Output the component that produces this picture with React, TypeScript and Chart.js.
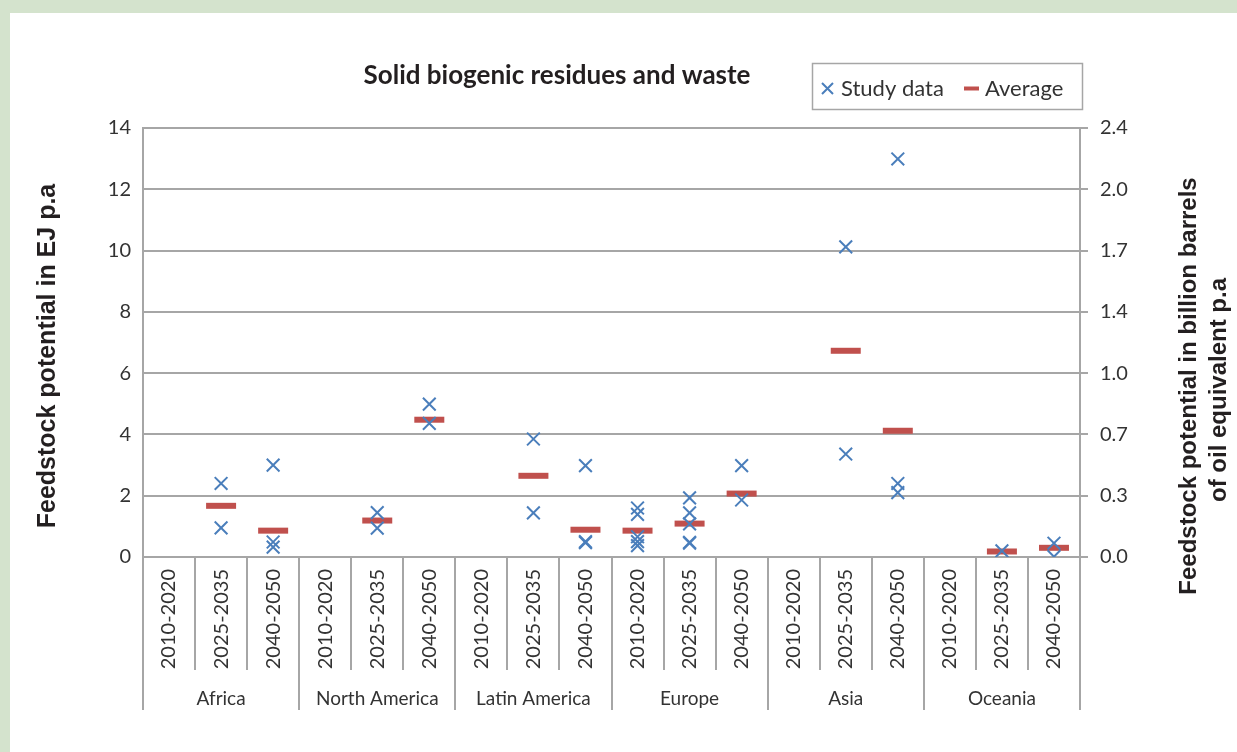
import React, { useEffect, useRef } from "react";
import { Chart, registerables } from "chart.js";

Chart.register(...registerables);

const regions = ["Africa", "North America", "Latin America", "Europe", "Asia", "Oceania"];
const periods = ["2010-2020", "2025-2035", "2040-2050"];
const rightTickLabels = ["0.0", "0.3", "0.7", "1.0", "1.4", "1.7", "2.0", "2.4"];

// Study data (EJ p.a) per period for each region
const africaStudy = [[], [2.4, 0.95], [3.0, 0.49, 0.32]];
const northAmericaStudy = [[], [1.45, 0.94], [4.99, 4.36]];
const latinAmericaStudy = [[], [3.85, 1.44], [2.98, 0.5, 0.47]];
const europeStudy = [[1.6, 1.39, 0.66, 0.5, 0.37], [1.93, 1.44, 1.08, 0.48, 0.45], [2.98, 1.86]];
const asiaStudy = [[], [10.12, 3.36], [12.99, 2.4, 2.1]];
const oceaniaStudy = [[], [0.2], [0.45, 0.01]];

// Averages (EJ p.a) per period for each region
const africaAvg = [null, 1.67, 0.86];
const northAmericaAvg = [null, 1.19, 4.48];
const latinAmericaAvg = [null, 2.65, 0.89];
const europeAvg = [0.86, 1.09, 2.07];
const asiaAvg = [null, 6.73, 4.12];
const oceaniaAvg = [null, 0.18, 0.3];

const studyByRegion = [africaStudy, northAmericaStudy, latinAmericaStudy, europeStudy, asiaStudy, oceaniaStudy];
const avgByRegion = [africaAvg, northAmericaAvg, latinAmericaAvg, europeAvg, asiaAvg, oceaniaAvg];

const categoryKeys: string[] = [];
regions.forEach((r) => periods.forEach((p) => categoryKeys.push(r + "|" + p)));

const GRID = "#a6a6a6";
const TEXT = "#333333";
const BLUE = "#4a7ebb";
const RED = "#c0504d";

const overlayPlugin = {
  id: "overlay",
  afterDraw(chart: any) {
    const ctx = chart.ctx;
    const ca = chart.chartArea;
    const n = categoryKeys.length;
    const w = (ca.right - ca.left) / n;
    ctx.save();
    // category separators
    ctx.strokeStyle = GRID;
    ctx.lineWidth = 2;
    for (let i = 0; i <= n; i++) {
      const x = Math.round(ca.left + i * w);
      ctx.beginPath();
      ctx.moveTo(x, ca.bottom);
      ctx.lineTo(x, ca.bottom + (i % 3 === 0 ? 153 : 113));
      ctx.stroke();
    }
    // region labels
    ctx.fillStyle = TEXT;
    ctx.font = "19px Lato";
    ctx.textAlign = "center";
    ctx.textBaseline = "middle";
    regions.forEach((r, i) => {
      ctx.fillText(r, ca.left + (i * 3 + 1.5) * w, 699);
    });
    // title
    ctx.fillStyle = "#231f20";
    ctx.font = "bold 26px Lato";
    ctx.fillText("Solid biogenic residues and waste", 557, 76);
    // legend box
    ctx.strokeStyle = GRID;
    ctx.lineWidth = 1.5;
    ctx.strokeRect(812.5, 63.5, 270, 46);
    ctx.strokeStyle = BLUE;
    ctx.lineWidth = 2;
    ctx.beginPath();
    ctx.moveTo(822, 83);
    ctx.lineTo(833, 94);
    ctx.moveTo(833, 83);
    ctx.lineTo(822, 94);
    ctx.stroke();
    ctx.strokeStyle = RED;
    ctx.lineWidth = 4;
    ctx.beginPath();
    ctx.moveTo(964, 88.5);
    ctx.lineTo(979, 88.5);
    ctx.stroke();
    ctx.fillStyle = TEXT;
    ctx.font = "22px Lato";
    ctx.textAlign = "left";
    ctx.fillText("Study data", 841, 89);
    ctx.fillText("Average", 985, 89);
    // axis titles
    ctx.fillStyle = "#231f20";
    ctx.textAlign = "center";
    ctx.font = "bold 25px 'Liberation Sans'";
    ctx.save();
    ctx.translate(48, 356);
    ctx.rotate(-Math.PI / 2);
    ctx.fillText("Feedstock potential in EJ p.a", 0, 0);
    ctx.restore();
    ctx.font = "bold 24px 'Liberation Sans'";
    ctx.save();
    ctx.translate(1189, 386);
    ctx.rotate(-Math.PI / 2);
    ctx.fillText("Feedstock potential in billion barrels", 0, 0);
    ctx.restore();
    ctx.save();
    ctx.translate(1219, 390);
    ctx.rotate(-Math.PI / 2);
    ctx.fillText("of oil equivalent p.a", 0, 0);
    ctx.restore();
    ctx.restore();
  },
};

export default function App() {
  const ref = useRef<HTMLCanvasElement>(null);
  useEffect(() => {
    if (!ref.current) return;
    const studyPoints: { x: string; y: number }[] = [];
    const avgPoints: { x: string; y: number }[] = [];
    regions.forEach((r, ri) => {
      periods.forEach((p, pi) => {
        const key = r + "|" + p;
        studyByRegion[ri][pi].forEach((v: number) => studyPoints.push({ x: key, y: v }));
        const a = avgByRegion[ri][pi];
        if (a !== null) avgPoints.push({ x: key, y: a as number });
      });
    });
    const chart = new Chart(ref.current, {
      type: "scatter",
      data: {
        labels: categoryKeys,
        datasets: [
          {
            label: "Average",
            data: avgPoints,
            pointStyle: "line",
            pointRadius: 15,
            pointBorderWidth: 6,
            borderColor: RED,
            backgroundColor: RED,
            showLine: false,
            order: 2,
          } as any,
          {
            label: "Study data",
            data: studyPoints,
            pointStyle: "crossRot",
            pointRadius: 9,
            pointBorderWidth: 2,
            borderColor: BLUE,
            backgroundColor: BLUE,
            showLine: false,
            order: 1,
          } as any,
        ],
      },
      options: {
        animation: false,
        responsive: false,
        devicePixelRatio: 1,
        layout: { padding: { top: 128, left: 0, right: 0, bottom: 0 } },
        plugins: { legend: { display: false }, title: { display: false }, tooltip: { enabled: false } },
        scales: {
          x: {
            type: "category",
            labels: categoryKeys,
            offset: true,
            grid: { display: false, drawTicks: false },
            border: { display: false },
            ticks: {
              autoSkip: false,
              minRotation: 90,
              maxRotation: 90,
              padding: 12,
              color: TEXT,
              font: { family: "Lato", size: 20 },
              callback: (_v: any, i: number) => periods[i % 3],
            },
            afterFit: (s: any) => {
              s.height = 195;
            },
          },
          y: {
            position: "left",
            min: 0,
            max: 14,
            ticks: { stepSize: 2, padding: 12, color: TEXT, font: { family: "Lato", size: 20 } },
            grid: { color: GRID, lineWidth: 2, drawTicks: false },
            border: { display: true, color: GRID, width: 2 },
            afterFit: (s: any) => {
              s.width = 143;
            },
          },
          y2: {
            position: "right",
            min: 0,
            max: 14,
            ticks: {
              stepSize: 2,
              padding: 12,
              color: TEXT,
              font: { family: "Lato", size: 20 },
              callback: (_v: any, i: number) => rightTickLabels[i],
            },
            grid: { drawOnChartArea: false, color: GRID, lineWidth: 2, tickLength: 8 },
            border: { display: true, color: GRID, width: 2 },
            afterFit: (s: any) => {
              s.width = 157;
            },
          },
        },
      } as any,
      plugins: [overlayPlugin],
    });
    return () => chart.destroy();
  }, []);
  return (
    <div style={{ position: "absolute", left: 0, top: 0, width: 1237, height: 752, background: "#d4e3cd" }}>
      <div style={{ position: "absolute", left: 10, top: 13, right: 0, bottom: 0, background: "#ffffff" }} />
      <canvas ref={ref} width={1237} height={752} style={{ position: "absolute", left: 0, top: 0 }} />
    </div>
  );
}
